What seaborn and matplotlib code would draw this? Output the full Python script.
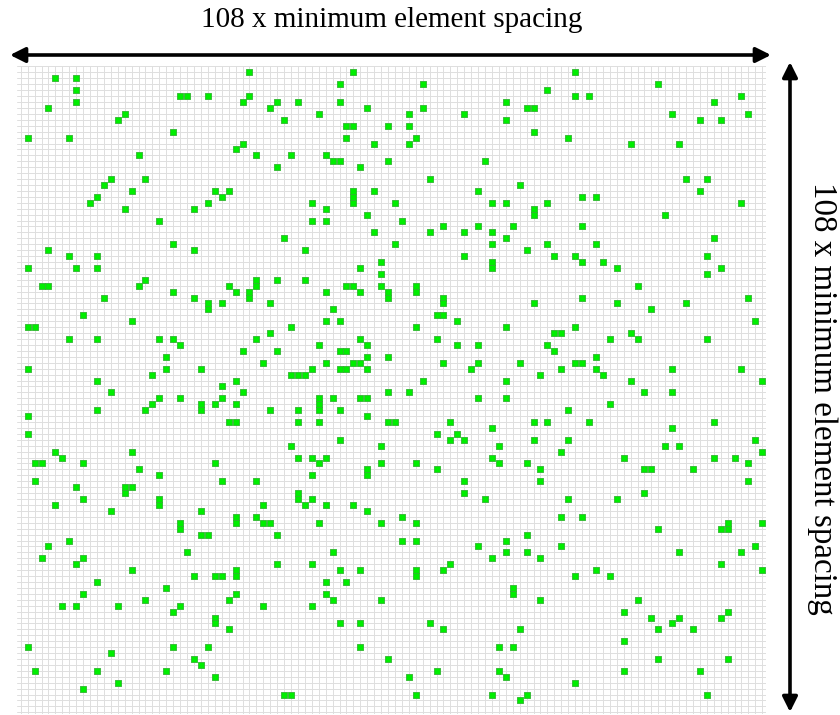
import numpy as np
import pandas as pd
import matplotlib
matplotlib.use("Agg")
import matplotlib.pyplot as plt
import seaborn as sns

N = 108
title_text = "108 x minimum element spacing"

# selected element positions: row index -> column indices
rows_cols = {
    0: [33, 48, 80],
    1: [5, 8],
    2: [46, 58, 92],
    3: [8, 76],
    4: [23, 24, 27, 33, 80, 82, 104],
    5: [8, 32, 37, 40, 46, 70, 100],
    6: [4, 36, 50, 58, 73, 74],
    7: [15, 43, 56, 64, 94, 105],
    8: [14, 38, 70, 98, 101],
    9: [47, 48, 53, 56],
    10: [22, 74],
    11: [1, 7, 47, 57, 79],
    12: [32, 51, 56, 88, 95],
    13: [31],
    14: [17, 34, 39, 44],
    15: [45, 46, 53, 67],
    16: [37, 49],
    18: [13, 18, 59, 96, 99],
    19: [12, 72],
    20: [16, 28, 30, 48, 51, 66, 98],
    21: [11, 29, 48, 81, 83],
    22: [10, 27, 42, 48, 54, 68, 70, 76, 104],
    23: [15, 25, 44, 74],
    24: [50, 74, 93],
    25: [20, 42, 44, 55],
    26: [61, 66, 71, 81],
    27: [51, 59, 64, 68],
    28: [38, 70, 100],
    29: [22, 54, 68, 76, 83],
    30: [4, 25, 41, 73],
    31: [7, 11, 64, 77, 80, 99],
    32: [52, 68, 81, 84],
    33: [1, 8, 11, 49, 68, 86, 101],
    34: [52, 99],
    35: [18, 34, 37, 41],
    36: [3, 4, 17, 30, 34, 47, 48, 52, 57, 89],
    37: [22, 31, 33, 44, 49, 53, 57],
    38: [12, 25, 33, 53, 61, 81, 105],
    39: [27, 29, 36, 61, 74, 86, 96],
    40: [27, 45, 91],
    41: [9, 60, 61],
    42: [16, 44, 46, 63, 106],
    43: [1, 2, 39, 57, 70, 80],
    44: [36, 77, 78, 88],
    45: [7, 11, 20, 22, 34, 49, 60, 85, 89, 99],
    46: [23, 43, 50, 63, 66, 76],
    47: [32, 37, 46, 47, 77],
    48: [21, 50, 53, 83],
    49: [35, 44, 48, 49, 61, 66, 72, 80, 81],
    50: [1, 21, 26, 42, 46, 47, 50, 65, 78, 83, 94, 104],
    51: [19, 39, 40, 41, 75, 84],
    52: [11, 31, 58, 70, 88, 107],
    53: [29],
    54: [13, 32, 53, 56, 90, 94],
    55: [20, 23, 29, 43, 45, 49, 50, 66, 70],
    56: [19, 26, 28, 31, 43, 85],
    57: [11, 18, 26, 36, 40, 43, 46, 79],
    58: [1, 50],
    59: [30, 31, 40, 43, 53, 54, 62, 74, 76, 82, 100],
    60: [68, 94],
    61: [1, 60, 63],
    62: [46, 62, 64, 74, 79, 106],
    63: [39, 52, 69, 93, 95],
    64: [5, 16, 78, 107],
    65: [6, 40, 42, 44, 68, 87, 100, 103],
    66: [2, 3, 9, 28, 43, 52, 57, 69, 73, 105],
    67: [17, 50, 60, 75, 90, 91, 97],
    68: [20, 42, 50],
    69: [2, 29, 34, 64, 75, 105],
    70: [8, 15, 16],
    71: [15, 40, 64, 90],
    72: [9, 20, 40, 42, 67, 79, 86],
    73: [5, 20, 35, 41, 44, 48],
    74: [13, 26, 50],
    75: [31, 34, 55, 78, 81],
    76: [23, 31, 35, 36, 43, 52, 57, 102, 107],
    77: [23, 92, 101, 102],
    78: [26, 27, 37, 73],
    79: [7, 55, 57, 70],
    80: [4, 66, 78, 106],
    81: [24, 45, 70, 73, 95, 104],
    82: [3, 9, 68, 75],
    83: [8, 37, 42, 62, 101],
    84: [16, 31, 46, 49, 57, 61, 83, 107],
    85: [25, 28, 29, 31, 57, 80, 85],
    86: [11, 44, 47],
    87: [21, 71],
    88: [9, 31, 44, 71],
    89: [18, 30, 45, 52, 75, 89],
    90: [6, 8, 14, 23, 35, 42],
    91: [22, 87, 102],
    92: [28, 91, 95, 101],
    93: [28, 46, 49, 59, 94],
    94: [30, 61, 72, 92, 97],
    96: [87],
    97: [1, 22, 27, 49, 69, 71],
    98: [13],
    99: [25, 53, 92, 102],
    100: [26],
    101: [2, 11, 21, 60, 69, 87, 98],
    102: [28, 56, 70],
    103: [14, 80],
    104: [9],
    105: [38, 39, 57, 68, 73, 99],
    106: [72],
}

element_rows = [r for r, cs in rows_cols.items() for _ in cs]
element_cols = [c for cs in rows_cols.values() for c in cs]
df = pd.DataFrame({"col": element_cols, "row": element_rows})

sns.set_style("white")
W, H = 840, 715
fig = plt.figure(figsize=(W / 100, H / 100), dpi=100)

# axes placement in pixels
ax_left, ax_right = 17.3, 765.7
ax_top, ax_bottom = 66.0, 714.0
ax = fig.add_axes([ax_left / W, 1 - ax_bottom / H,
                   (ax_right - ax_left) / W, (ax_bottom - ax_top) / H])

sns.scatterplot(data=df, x="col", y="row", marker="s", s=18,
                color="#00ee00", edgecolor="#2fb52f", linewidth=0.6,
                ax=ax, zorder=3, legend=False)

ax.set_xlim(-0.5, N - 0.5)
ax.set_ylim(108.28, -1.08)
ax.set_xticks(np.arange(N))
ax.set_yticks(np.arange(-1, N + 1))
ax.grid(True, color="#dedede", linewidth=0.7)
ax.set_axisbelow(True)
ax.tick_params(length=0, labelbottom=False, labelleft=False)
ax.set_xlabel("")
ax.set_ylabel("")
for sp in ax.spines.values():
    sp.set_visible(False)

serif = ["Liberation Serif", "DejaVu Serif"]
fig.text(392 / W, 1 - 20 / H, title_text, ha="center", va="center",
         family=serif, size=21, color="black")
fig.text(822 / W, 1 - 398 / H, title_text, ha="center", va="center",
         rotation=-90, family=serif, size=23.8, color="black")

arrow_kw = dict(arrowstyle="<|-|>,head_length=0.9,head_width=0.45",
                color="black", lw=2.6, shrinkA=0, shrinkB=0)
ax.annotate("", xy=(10, H - 55), xytext=(771, H - 55),
            xycoords="figure pixels", textcoords="figure pixels",
            arrowprops=arrow_kw, annotation_clip=False)
ax.annotate("", xy=(790, H - 62), xytext=(790, H - 712),
            xycoords="figure pixels", textcoords="figure pixels",
            arrowprops=arrow_kw, annotation_clip=False)

fig.savefig("out.png", dpi=100)
